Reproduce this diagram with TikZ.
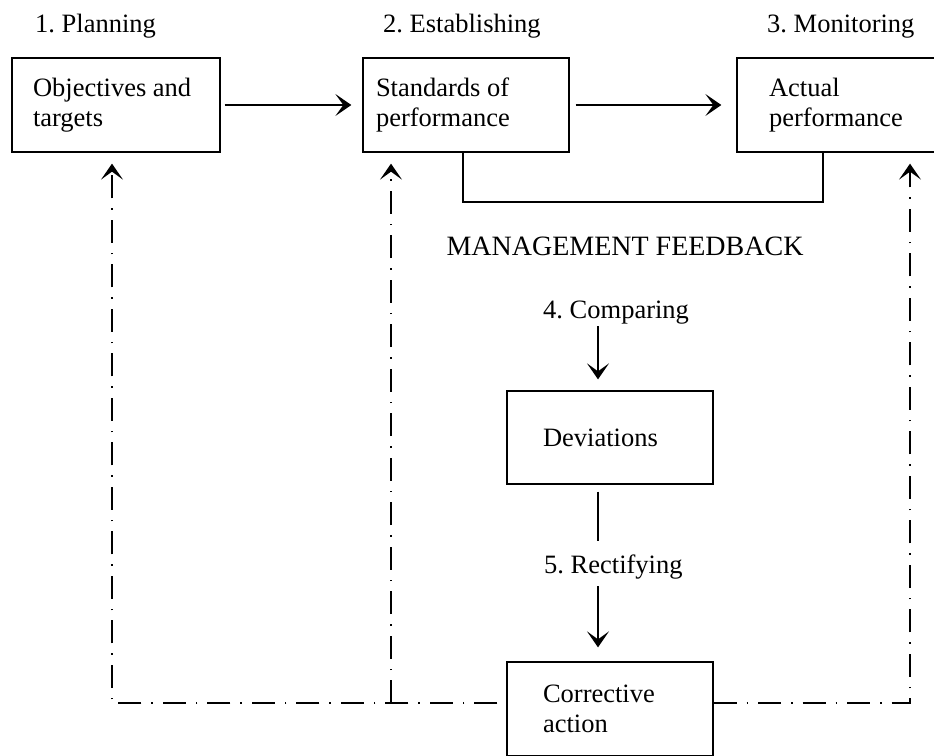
\documentclass[tikz,border=0pt]{standalone}
\usepackage{fontspec}
\setmainfont{Liberation Serif}
\usetikzlibrary{arrows.meta}
\begin{document}
\begin{tikzpicture}[x=1pt,y=-1pt,
  every node/.style={font=\fontsize{26.5}{30}\selectfont, inner sep=0pt},
  box/.style={draw, line width=1.3pt, align=flush left, minimum height=94pt, inner ysep=0pt},
  lbl/.style={anchor=base west},
  link/.style={line width=1.3pt},
  tip/.style={-{Stealth[length=16pt,width=22pt,inset=8pt]}},
  arr/.style={link, tip},
  dd/.style={line width=1.3pt, dash pattern=on 23pt off 10pt on 1.5pt off 10pt},
  ddarr/.style={dd, tip}]

\useasboundingbox (0,0) rectangle (934,755);
\clip (0,0) rectangle (934,755);

% stage labels
\node[lbl] (plan) at (35,32) {1.\ Planning};
\node[lbl] (est)  at (383,32) {2.\ Establishing};
\node[lbl] (mon)  at (767,32) {3.\ Monitoring};

% top row of boxes
\node[box, inner xsep=21pt, text width=166pt] (b1) at (116,105) {Objectives and\\targets};
\node[box, inner xsep=13pt, text width=180pt] (b2) at (466,105) {Standards of\\performance};
\node[box, inner xsep=32pt, text width=144pt] (b3) at (841,105) {Actual\\performance};

% feedback column
\node (mf) [anchor=base, font=\fontsize{28}{30}\selectfont] at (625,255) {MANAGEMENT FEEDBACK};
\node[lbl] (cmp) at (543,318) {4.\ Comparing};
\node[box, inner xsep=36pt, text width=134pt, minimum height=93pt] (dev) at (610,437.5) {Deviations};
\node[lbl] (rect) at (544,573) {5.\ Rectifying};
\node[box, inner xsep=36pt, text width=134pt] (corr) at (610,709) {Corrective\\action};

% helper coordinates
\coordinate (col) at (598,0);
\coordinate (fbL) at (463,202);
\coordinate (fbR) at (823,202);
\coordinate (jL) at (112,703);
\coordinate (jM) at (391,703);
\coordinate (jR) at (910,703);

% main flow
\draw[arr, shorten <=4pt, shorten >=11pt] (b1.east) -- (b2.west);
\draw[arr, shorten <=6pt, shorten >=15pt] (b2.east) -- (b3.west);
\draw[link] (b2.south -| fbL) -- (fbL) -- (fbR) -- (b3.south -| fbR);

% comparing and rectifying
\draw[arr, shorten <=2.4pt, shorten >=11pt] (cmp.south -| col) -- (dev.north -| col);
\draw[link, shorten <=7pt, shorten >=13pt] (dev.south -| col) -- (rect.north -| col);
\draw[arr, shorten <=7.4pt, shorten >=14pt] (rect.south -| col) -- (corr.north -| col);

% corrective feedback loops
\draw[ddarr, shorten <=9pt, shorten >=11pt] (corr.west |- jL) -- (jL) -- (b1.south -| jL);
\draw[ddarr, shorten >=11pt] (jM) -- (b2.south -| jM);
\draw[ddarr, shorten >=11pt] (corr.east |- jR) -- (jR) -- (b3.south -| jR);
\end{tikzpicture}
\end{document}
